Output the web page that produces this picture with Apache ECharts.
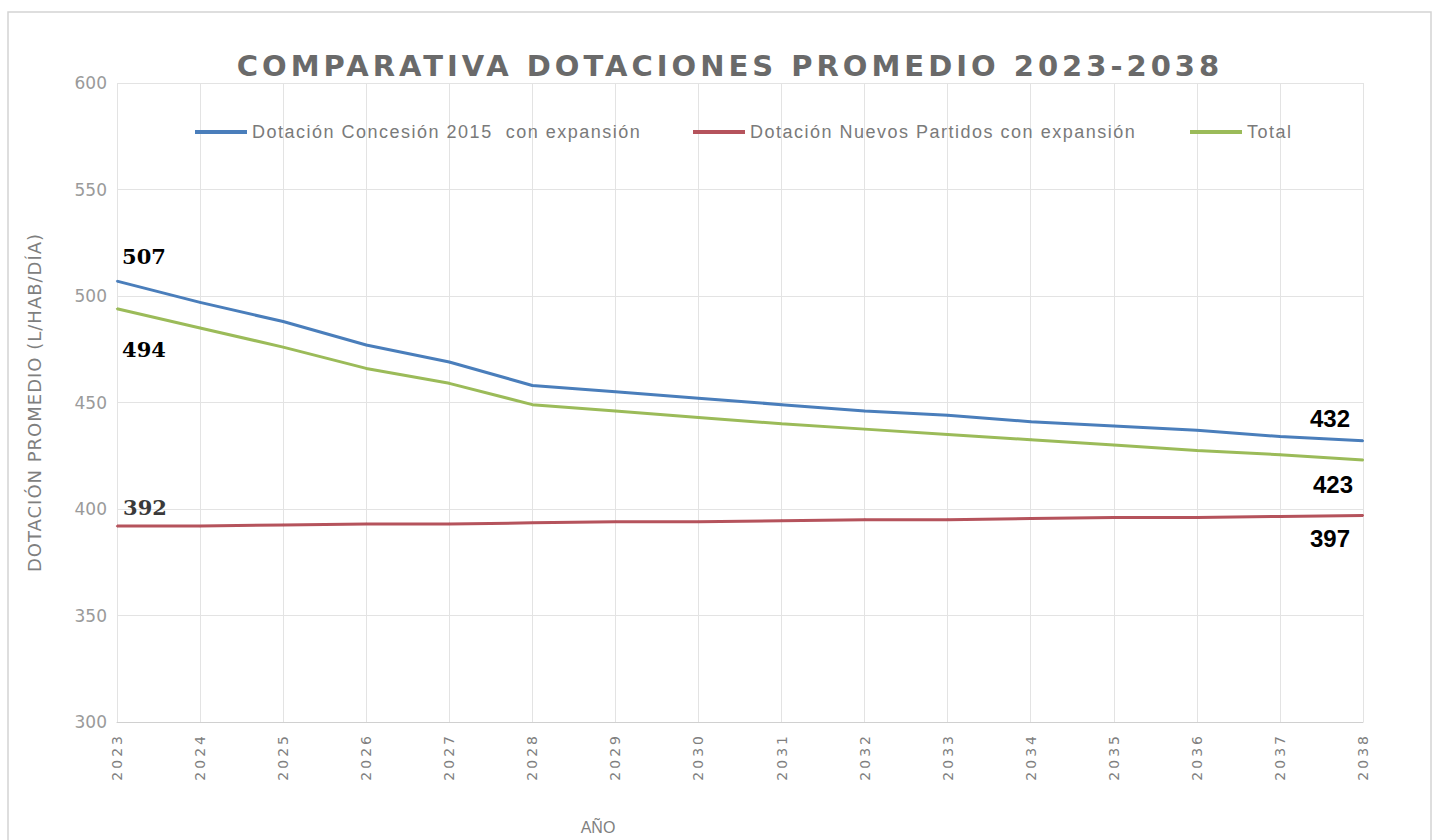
<!DOCTYPE html>
<html>
<head>
<meta charset="utf-8">
<script src="https://cdn.jsdelivr.net/npm/echarts@6/dist/echarts.min.js"></script>
<style>
  html, body { margin: 0; padding: 0; background: #ffffff; }
  #chart { width: 1436px; height: 840px; }
</style>
</head>
<body>
<div id="chart"></div>
<script>
// Years on the horizontal axis
const years = ['2023','2024','2025','2026','2027','2028','2029','2030','2031','2032','2033','2034','2035','2036','2037','2038'];

// Average allocation (L/hab/día) per scenario
const concesion2015 = [507, 497, 488, 477, 469, 458, 455, 452, 449, 446, 444, 441, 439, 437, 434, 432];
const nuevosPartidos = [392, 392, 392.5, 393, 393, 393.5, 394, 394, 394.5, 395, 395, 395.5, 396, 396, 396.5, 397];
const total = [494, 485, 476, 466, 459, 449, 446, 443, 440, 437.5, 435, 432.5, 430, 427.5, 425.5, 423];

const seriesNames = ['Dotación Concesión 2015  con expansión', 'Dotación Nuevos Partidos con expansión', 'Total'];
const seriesColors = ['#4a7ebb', '#b5535c', '#9bbb59'];
const titleText = 'COMPARATIVA DOTACIONES PROMEDIO 2023-2038';
const yAxisName = 'DOTACIÓN PROMEDIO (L/HAB/DÍA)';

// Value annotations: first and last point of each series
const labelSans = { fontFamily: 'Liberation Sans, sans-serif', fontWeight: 'bold', fontSize: 24, color: '#000' };
const labelSerif = { fontFamily: 'DejaVu Serif, serif', fontWeight: 'bold', fontSize: 21, color: '#000' };
const annotations = [
  { 0: Object.assign({ offset: [27, -25] }, labelSerif), 15: Object.assign({ offset: [-33, -22] }, labelSans) },
  { 0: Object.assign({ offset: [28, -19] }, labelSerif, { color: '#3a3a3a' }), 15: Object.assign({ offset: [-33, 23] }, labelSans) },
  { 0: Object.assign({ offset: [27, 41] }, labelSerif), 15: Object.assign({ offset: [-30, 24] }, labelSans) }
];

function buildData(values, notes) {
  return values.map(function (v, i) {
    const n = notes[i];
    if (!n) return v;
    return {
      value: v,
      label: Object.assign({ show: true, position: 'inside', formatter: function (p) { return Math.round(p.value); } }, n)
    };
  });
}

const valueSets = [concesion2015, nuevosPartidos, total];

const chart = echarts.init(document.getElementById('chart'), null, { renderer: 'svg' });

const gray = '#7f7f7f';
const gridColor = '#e3e3e3';
const legendLefts = [190, 688, 1185];

chart.setOption({
  backgroundColor: '#ffffff',
  animation: false,
  graphic: [{
    type: 'rect',
    shape: { x: 8, y: 12, width: 1423, height: 840 },
    style: { fill: 'none', stroke: '#d4d4d4', lineWidth: 1.5 },
    silent: true,
    z: -1
  }],
  title: {
    text: titleText,
    left: 725,
    textAlign: 'center',
    top: 46,
    textStyle: { fontFamily: 'DejaVu Sans, sans-serif', fontSize: 29, fontWeight: 'bold', color: '#6a6a6a' }
  },
  legend: seriesNames.map(function (name, k) {
    return {
      top: 118,
      left: legendLefts[k],
      itemWidth: 52,
      itemHeight: 4,
      icon: 'rect',
      textStyle: { fontFamily: 'Liberation Sans, sans-serif', fontSize: 18, color: '#7a7a7a' },
      data: [name]
    };
  }),
  grid: { left: 117, right: 73, top: 83, bottom: 113, containLabel: false },
  xAxis: {
    type: 'category',
    data: years,
    boundaryGap: false,
    name: 'AÑO',
    nameLocation: 'middle',
    nameGap: 97,
    nameTextStyle: { fontFamily: 'Liberation Sans, sans-serif', fontSize: 16, color: gray, padding: [0, 0, 0, -284] },
    axisLine: { show: true, lineStyle: { color: '#d0d0d0', width: 1 } },
    axisTick: { show: false },
    splitLine: { show: true, lineStyle: { color: gridColor, width: 1 } },
    axisLabel: { rotate: 90, margin: 11, fontFamily: 'DejaVu Sans, sans-serif', fontSize: 14, color: gray }
  },
  yAxis: {
    type: 'value',
    min: 300,
    max: 600,
    interval: 50,
    name: yAxisName,
    nameLocation: 'middle',
    nameGap: 74,
    nameRotate: 90,
    nameTextStyle: { fontFamily: 'DejaVu Sans, sans-serif', fontSize: 18, color: gray },
    axisLine: { show: false },
    axisTick: { show: false },
    splitLine: { show: true, lineStyle: { color: gridColor, width: 1 } },
    axisLabel: { margin: 10, fontFamily: 'DejaVu Sans, sans-serif', fontSize: 17, color: '#9a9a9a' }
  },
  series: valueSets.map(function (vals, k) {
    return {
      name: seriesNames[k],
      type: 'line',
      data: buildData(vals, annotations[k]),
      showSymbol: true,
      symbol: 'circle',
      symbolSize: 2,
      itemStyle: { color: seriesColors[k] },
      lineStyle: { color: seriesColors[k], width: 3 },
      emphasis: { disabled: true },
      z: k === 1 ? 3 : 2
    };
  })
});

// Widen tracking of the text the way the spreadsheet styles it
function applyTracking() {
  const spacing = {};
  spacing[titleText] = '4px';
  spacing[yAxisName] = '1px';
  seriesNames.forEach(function (n) { spacing[n] = '1.5px'; });
  years.forEach(function (y) { spacing[y] = '3px'; });
  document.querySelectorAll('#chart text').forEach(function (t) {
    const s = spacing[t.textContent];
    if (s) t.style.letterSpacing = s;
  });
}
applyTracking();
chart.on('finished', applyTracking);
setTimeout(applyTracking, 50);
</script>
</body>
</html>
